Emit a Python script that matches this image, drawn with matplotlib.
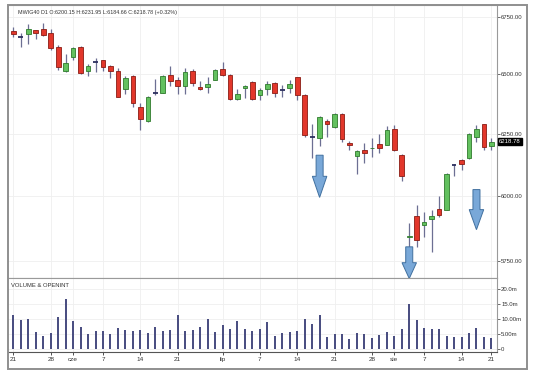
import numpy as np
import matplotlib
matplotlib.use("Agg")
import matplotlib.pyplot as plt
from matplotlib.patches import Rectangle, Polygon
from matplotlib.ticker import NullLocator, FixedLocator, FixedFormatter
import matplotlib.transforms as mtransforms

# MWIG40 daily, 21 May - 21 Aug 2013 (trading days)
opens = [6690, 6661, 6674, 6693, 6697, 6678, 6619, 6515, 6573, 6619,
         6515, 6555, 6561, 6535, 6514, 6437, 6492, 6362, 6304, 6422,
         6421, 6497, 6478, 6450, 6514, 6447, 6447, 6478, 6521, 6497,
         6396, 6443, 6468, 6414, 6436, 6464, 6436, 6440, 6487, 6412,
         6238, 6235, 6304, 6279, 6332, 6213, 6161, 6183, 6191, 6208,
         6206, 6272, 6163, 5840, 5920, 5888, 5910, 5947, 5946, 6124,
         6142, 6152, 6237, 6290, 6200.15]
highs = [6706, 6679, 6719, 6694, 6725, 6696, 6627, 6586, 6619, 6622,
         6543, 6569, 6564, 6540, 6526, 6494, 6497, 6377, 6407, 6480,
         6497, 6535, 6487, 6528, 6521, 6472, 6487, 6521, 6554, 6501,
         6436, 6453, 6470, 6440, 6472, 6467, 6454, 6475, 6490, 6415,
         6293, 6323, 6310, 6337, 6337, 6221, 6186, 6213, 6235, 6249,
         6282, 6286, 6166, 5895, 5965, 5936, 5943, 6001, 6091, 6128,
         6149, 6254, 6286, 6293, 6231.95]
lows = [6662, 6618, 6631, 6653, 6668, 6605, 6518, 6511, 6561, 6500,
        6492, 6511, 6514, 6483, 6402, 6416, 6362, 6265, 6300, 6411,
        6419, 6450, 6416, 6416, 6450, 6433, 6421, 6475, 6492, 6390,
        6393, 6398, 6393, 6393, 6412, 6404, 6402, 6419, 6393, 6237,
        6153, 6199, 6237, 6276, 6217, 6183, 6086, 6132, 6156, 6172,
        6203, 6180, 6059, 5802, 5802, 5839, 5782, 5919, 5943, 6078,
        6102, 6149, 6215, 6186, 6184.66]
closes = [6674, 6660, 6696, 6681, 6669, 6612, 6532, 6547, 6612, 6504,
          6538, 6553, 6532, 6515, 6404, 6485, 6377, 6310, 6404, 6423,
          6495, 6471, 6450, 6511, 6464, 6436, 6461, 6517, 6497, 6395,
          6416, 6450, 6395, 6433, 6461, 6421, 6435, 6461, 6412, 6244,
          6237, 6320, 6293, 6332, 6231, 6203, 6180, 6170, 6194, 6192,
          6265, 6183, 6078, 5844, 5829, 5897, 5923, 5926, 6089, 6122,
          6129, 6251, 6272, 6196, 6218.78]
# volume in millions
volume = [11.3, 9.7, 9.9, 5.7, 4.3, 5.3, 10.8, 16.7, 9.3, 7.3,
          5.0, 6.0, 6.0, 5.2, 7.0, 6.3, 6.0, 6.3, 5.4, 7.3,
          6.0, 6.3, 11.3, 6.0, 6.3, 7.4, 9.9, 5.8, 7.9, 6.7,
          9.3, 6.7, 6.0, 6.7, 9.1, 4.3, 5.3, 5.7, 6.0, 10.1,
          8.2, 11.3, 4.0, 4.9, 4.9, 3.3, 5.3, 4.9, 3.8, 4.6,
          5.7, 4.3, 6.8, 15.0, 9.7, 7.0, 6.6, 6.6, 4.3, 4.0,
          4.0, 5.4, 7.0, 4.0, 3.7]

tick_pos = [0, 5, 8, 12, 17, 22, 28, 33, 38, 43, 48, 51, 55, 60, 64]
tick_labels = ["21", "28", "cze", "7", "14", "21", "lip", "7", "14",
               "21", "28", "sie", "7", "14", "21"]

price_ticks = [5750, 6000, 6250, 6500, 6750]
vol_ticks = [0, 5, 10, 15, 20]
vol_tick_labels = ["0", "5.00m", "10.00m", "15.0m", "20.0m"]

# sell signals: bar index, arrow top price, arrow tip price
signal_idx = [41, 53, 62]
signal_top = [6163, 5802, 6025]
signal_tip = [5994, 5682, 5868]

title = "MWIG40 D1 O:6200.15 H:6231.95 L:6184.66 C:6218.78 (+0.32%)"

FONT = ["Liberation Sans Narrow", "Liberation Sans", "DejaVu Sans"]
plt.rcParams["font.family"] = FONT

W, H = 536, 373
fig = plt.figure(figsize=(W / 100, H / 100), dpi=100)
fig.patch.set_facecolor("white")

def fx(px):
    return px / W

def fy(py):
    return 1 - py / H

left, right = 8, 497
ax = fig.add_axes([fx(left), fy(277.5), fx(right - left), fy(5) - fy(277.5)])
axv = fig.add_axes([fx(left), fy(351.7), fx(right - left), fy(278) - fy(351.7)], sharex=ax)

n = len(closes)
x = np.arange(n)
o = np.array(opens); c = np.array(closes)
h = np.array(highs); l = np.array(lows)

red, red_edge = "#e2372b", "#8a1c14"
green, green_edge = "#63c15f", "#2f7a2c"
wick = "#6c6f93"
doji = "#2c2f5e"

ax.set_yscale("log")
ax.vlines(x, l, h, color=wick, lw=0.9, zorder=2)
for i in range(n):
    if abs(c[i] - o[i]) < 2.5:
        ax.hlines((o[i] + c[i]) / 2, i - 0.32, i + 0.32, color=doji, lw=1.3, zorder=3)
        continue
    up = c[i] > o[i]
    ax.bar(i, abs(c[i] - o[i]), bottom=min(o[i], c[i]), width=0.62,
           color=green if up else red, edgecolor=green_edge if up else red_edge,
           linewidth=0.6, zorder=3)

# sell arrows
for i, top, tip in zip(signal_idx, signal_top, signal_tip):
    mid = np.exp((np.log(top) + np.log(tip)) / 2)
    sw, hw = 0.47, 0.97
    pts = [(i - sw, top), (i + sw, top), (i + sw, mid), (i + hw, mid),
           (i, tip), (i - hw, mid), (i - sw, mid)]
    ax.add_patch(Polygon(pts, closed=True, facecolor="#79a8d8",
                         edgecolor="#41709f", linewidth=0.7, zorder=4))

ax.set_ylim(5686, 6804)
ax.set_xlim(-0.72, n - 1 + 0.75)
ax.yaxis.set_major_locator(FixedLocator(price_ticks))
ax.yaxis.set_major_formatter(FixedFormatter(["%.2f" % v for v in price_ticks]))
ax.yaxis.set_minor_locator(NullLocator())
ax.yaxis.tick_right()
ax.tick_params(axis="y", length=2, width=0.6, color="#555555", labelsize=4.3,
               labelcolor="#333333", pad=1)
ax.tick_params(axis="x", length=0, labelbottom=False)
ax.set_xticks(tick_pos)
ax.grid(True, color="#efefef", lw=0.6, zorder=0)

# last price label
trans = mtransforms.blended_transform_factory(ax.transAxes, ax.transData)
ax.text(1.004, closes[-1], "%.2f" % closes[-1], transform=trans, fontsize=4.3,
        color="white", va="center", ha="left",
        bbox=dict(boxstyle="square,pad=0.15", fc="black", ec="black"))

ax.text(0.0205, 0.974, title, transform=ax.transAxes, fontsize=3.9,
        color="#333333", va="center", ha="left")

# volume
axv.bar(x, volume, width=0.27, color="#4b4f82", zorder=2)
axv.set_ylim(-0.8, 23.5)
axv.yaxis.set_major_locator(FixedLocator(vol_ticks))
axv.yaxis.set_major_formatter(FixedFormatter(vol_tick_labels))
axv.yaxis.tick_right()
axv.tick_params(axis="y", length=2, width=0.6, color="#555555", labelsize=4.3,
                labelcolor="#333333", pad=1)
axv.set_xticks(tick_pos)
axv.set_xticklabels(tick_labels)
axv.tick_params(axis="x", length=2, width=0.6, color="#333333", labelsize=4.6,
                labelcolor="#333333", pad=2)
axv.grid(True, color="#efefef", lw=0.6, zorder=0)
axv.text(0.006, 0.905, "VOLUME & OPENINT", transform=axv.transAxes, fontsize=4.2,
         color="#333333", va="center", ha="left")

for a in (ax, axv):
    for s in a.spines.values():
        s.set_color("#9a9a9a")
        s.set_linewidth(0.8)
    a.spines["left"].set_visible(False)
axv.spines["bottom"].set_color("#555555")

# outer frame
fig.add_artist(Rectangle((fx(8), fy(369)), fx(527 - 8), fy(5) - fy(369),
                         transform=fig.transFigure, fill=False,
                         edgecolor="#8f8f8f", linewidth=1.4))

fig.savefig("out.png", dpi=100)
